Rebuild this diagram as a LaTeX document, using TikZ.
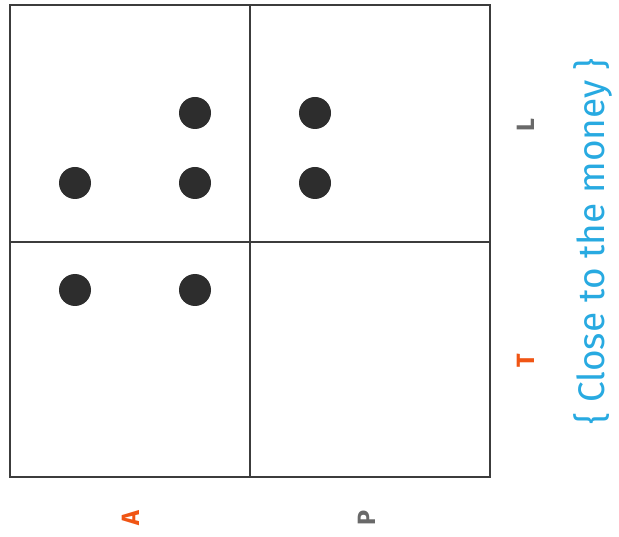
\documentclass[tikz,border=0pt]{standalone}
\usepackage{fontspec}
\setmainfont{Fira Sans}
\usetikzlibrary{positioning}
\definecolor{dotgray}{RGB}{45,45,45}
\definecolor{gridgray}{RGB}{60,60,60}
\definecolor{axisorange}{RGB}{240,85,20}
\definecolor{axisgray}{RGB}{105,105,105}
\definecolor{moneyblue}{RGB}{40,170,225}

\begin{document}
\begin{tikzpicture}[x=1pt, y=-1pt,
    dot/.style={circle, fill=dotgray, minimum size=32pt, inner sep=0pt},
    axlab/.style={rotate=90, font=\fontsize{25}{25}\selectfont\bfseries}]
  \useasboundingbox (0,0) rectangle (619,537);

  % Grille 2x2
  \draw[line width=1.5pt, gridgray] (10,5) rectangle (490,477);
  \draw[line width=1.5pt, gridgray] (250,5) -- (250,477);
  \draw[line width=1.5pt, gridgray] (10,242) -- (490,242);

  % Points
  \node[dot] (a1) at (195,113) {};
  \node[dot] (a2) at (75,183) {};
  \node[dot] (a3) at (195,183) {};
  \node[dot] (p1) at (315,113) {};
  \node[dot] (p2) at (315,183) {};
  \node[dot] (t1) at (75,290) {};
  \node[dot] (t2) at (195,290) {};

  % Axes
  \node[axlab, axisorange] (labA) at (131,518) {A};
  \node[axlab, axisgray] (labP) at (367,518) {P};
  \node[axlab, axisgray] (labL) at (526,125) {L};
  \node[axlab, axisorange] (labT) at (526,361) {T};
  \node[rotate=90, moneyblue, font=\fontsize{37}{37}\selectfont] (money) at (593,241.5) {\{ Close to the money \}};
\end{tikzpicture}
\end{document}
